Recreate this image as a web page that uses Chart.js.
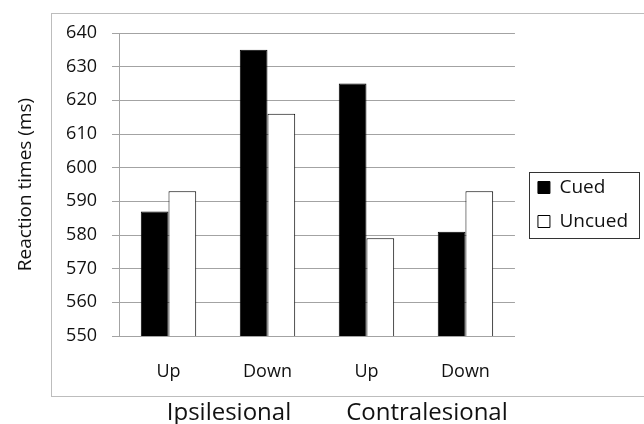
<!DOCTYPE html>
<html>
<head>
<meta charset="utf-8">
<script src="https://cdn.jsdelivr.net/npm/chart.js@4"></script>
<style>
  html, body { margin: 0; padding: 0; background: #fff; }
  #wrap { width: 644px; height: 424px; }
</style>
</head>
<body>
<div id="wrap"><canvas id="barchart" width="644" height="424"></canvas></div>
<script>
// valores
const categorias = ["Up", "Down", "Up", "Down"];
const grupos = ["Ipsilesional", "Contralesional"];
const cued = [587, 635, 625, 581];
const uncued = [593, 616, 579, 593];
const ticksY = [550, 560, 570, 580, 590, 600, 610, 620, 630, 640];

const cinza = "#a3a3a3";
const fonte = "'Open Sans', 'Noto Sans', sans-serif";

// moldura externa, rótulos de grupo e caixa da legenda
const extras = {
    id: "extras",
    beforeDraw(chart) {
        const ctx = chart.ctx;
        ctx.save();
        ctx.fillStyle = "#fff";
        ctx.fillRect(0, 0, chart.width, chart.height);
        ctx.strokeStyle = "#bdbdbd";
        ctx.lineWidth = 1;
        ctx.strokeRect(51.5, 13.5, 620, 383);
        ctx.restore();
    },
    afterLayout(chart) {
        const lg = chart.legend;
        lg.top -= 24;
        lg.bottom -= 24;
        lg.left += 8;
        lg.right += 8;
    },
    afterDraw(chart) {
        const ctx = chart.ctx;
        const x = chart.scales.x;
        ctx.save();
        ctx.fillStyle = "#111";
        ctx.font = "24px " + fonte;
        ctx.textAlign = "center";
        ctx.textBaseline = "middle";
        grupos.forEach((g, i) => {
            const meio = (x.getPixelForValue(i * 2) + x.getPixelForValue(i * 2 + 1)) / 2;
            ctx.fillText(g, meio + 11, 413);
        });
        // borda da legenda
        const hb = chart.legend.legendHitBoxes;
        if (hb && hb.length) {
            const a = hb[0], b = hb[hb.length - 1];
            const esq = Math.round(a.left - 9) + 0.5;
            const topo = Math.round(a.top - 6) + 0.5;
            const base = Math.round(b.top + b.height + 7) + 0.5;
            ctx.strokeStyle = "#333";
            ctx.lineWidth = 1;
            ctx.strokeRect(esq, topo, 639.5 - esq, base - topo);
        }
        ctx.restore();
    }
};

let ctx = document.getElementById("barchart").getContext("2d");
new Chart(ctx, {
    type: "bar",
    data: {
        labels: categorias,
        datasets: [{
            label: "Cued",
            data: cued,
            backgroundColor: "#000",
            borderColor: "#000",
            borderWidth: 1
        }, {
            label: "Uncued",
            data: uncued,
            backgroundColor: "#fff",
            borderColor: "#000",
            borderWidth: 1
        }]
    },
    options: {
        responsive: false,
        animation: false,
        devicePixelRatio: 1,
        layout: { padding: { top: 33, left: 0, right: 14, bottom: 0 } },
        datasets: { bar: { categoryPercentage: 0.56, barPercentage: 1.0 } },
        plugins: {
            tooltip: { enabled: false },
            legend: {
                position: "right",
                labels: {
                    boxWidth: 12,
                    boxHeight: 12,
                    padding: 15,
                    color: "#111",
                    font: { family: fonte, size: 19 }
                }
            }
        },
        scales: {
            x: {
                grid: { display: false, drawTicks: false },
                border: { display: true, color: cinza },
                ticks: { color: "#111", padding: 25, font: { family: fonte, size: 18 } },
                afterFit: scale => { scale.height = 88; }
            },
            y: {
                min: ticksY[0],
                max: ticksY[ticksY.length - 1],
                afterBuildTicks: scale => { scale.ticks = ticksY.map(v => ({ value: v })); },
                grid: { color: cinza, tickLength: 7, drawTicks: true },
                border: { color: cinza },
                ticks: { color: "#111", padding: 15, font: { family: fonte, size: 18 } },
                title: {
                    display: true,
                    text: "Reaction times (ms)",
                    color: "#111",
                    padding: { top: 14, bottom: 0 },
                    font: { family: fonte, size: 19 }
                },
                afterFit: scale => { scale.width = 119; }
            }
        }
    },
    plugins: [extras]
});
</script>
</body>
</html>
